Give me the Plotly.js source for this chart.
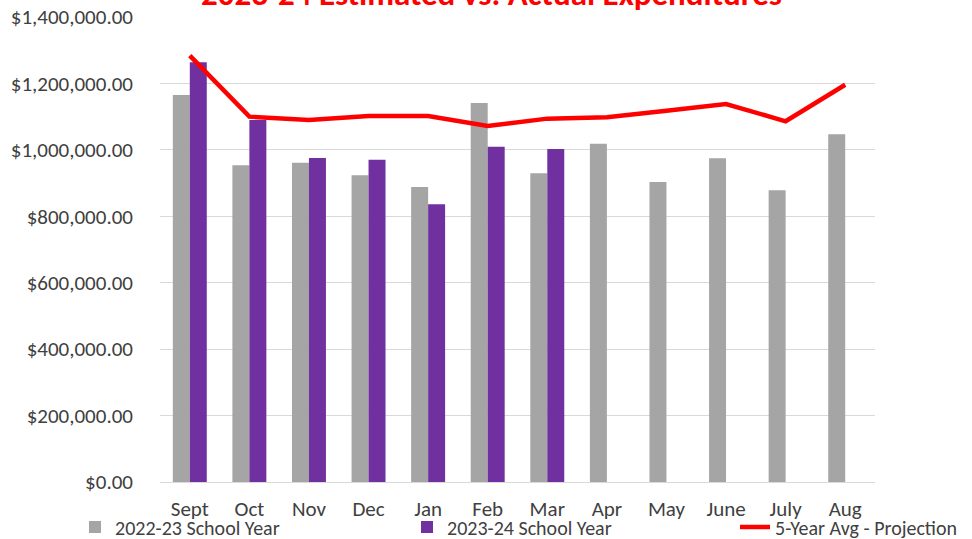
<!DOCTYPE html>
<html>
<head>
<meta charset="utf-8">
<script src="https://cdn.plot.ly/plotly-3.0.1.min.js"></script>
<style>html,body{margin:0;padding:0;background:#fff;}#chart{width:972px;height:539px;}</style>
</head>
<body>
<div id="chart"></div>
<script>
const months = ["Sept","Oct","Nov","Dec","Jan","Feb","Mar","Apr","May","June","July","Aug"];
const year2223 = [1165000, 953500, 961500, 923400, 888300, 1141000, 929400, 1018700, 903300, 974500, 878200, 1046800];
const year2324 = [1264000, 1090000, 975600, 970500, 836000, 1009600, 1002700, null, null, null, null, null];
const avgProjection = [1283700, 1100000, 1090000, 1102000, 1102000, 1072000, 1094000, 1098000, 1118000, 1138000, 1086000, 1196000];
const yTicks = [0, 200000, 400000, 600000, 800000, 1000000, 1200000, 1400000];
const yTickText = ["$0.00","$200,000.00","$400,000.00","$600,000.00","$800,000.00","$1,000,000.00","$1,200,000.00","$1,400,000.00"];

const FONT = "Carlito, 'Liberation Sans', Arial, sans-serif";
const traces = [
  {type:"bar", name:"2022-23 School Year", x:months, y:year2223, marker:{color:"#a5a5a5"}, legend:"legend"},
  {type:"bar", name:"2023-24 School Year", x:months, y:year2324, marker:{color:"#7030a0"}, legend:"legend2"},
  {type:"scatter", mode:"lines", name:"5-Year Avg - Projection", x:months, y:avgProjection, line:{color:"#ff0000", width:4.5}, legend:"legend3"}
];
function leg(xpx){
  return {orientation:"h", xref:"container", yref:"container", x:xpx/972, y:12/539, xanchor:"left", yanchor:"middle",
          font:{family:FONT, size:20, color:"#404040"}, bgcolor:"rgba(0,0,0,0)"};
}
const layout = {
  width:972, height:539,
  margin:{l:160, r:97, t:17, b:57, autoexpand:false},
  paper_bgcolor:"#fff", plot_bgcolor:"#fff",
  barmode:"group", bargap:0.43, bargroupgap:0,
  font:{family:FONT, size:21, color:"#404040"},
  xaxis:{type:"category", showgrid:false, showline:true, linecolor:"#d9d9d9", linewidth:1, ticks:"", ticklabelstandoff:8, tickfont:{family:FONT, size:21, color:"#404040"}},
  yaxis:{range:[0,1400000], tickvals:yTicks, ticktext:yTickText, showgrid:true, gridcolor:"#d9d9d9", gridwidth:1, zeroline:false, showline:false, ticks:"", ticklabelstandoff:26, tickfont:{family:FONT, size:21, color:"#404040"}},
  showlegend:true,
  legend:leg(75), legend2:leg(407), legend3:leg(735),
  annotations:[{text:"<b>2023-24 Estimated vs. Actual Expenditures</b>", xref:"paper", yref:"paper", x:0.464, y:1.050, xanchor:"center", yanchor:"middle", showarrow:false, font:{family:FONT, size:33, color:"#ff0000"}}]
};
Plotly.newPlot("chart", traces, layout, {displayModeBar:false, staticPlot:true});
</script>
</body>
</html>
